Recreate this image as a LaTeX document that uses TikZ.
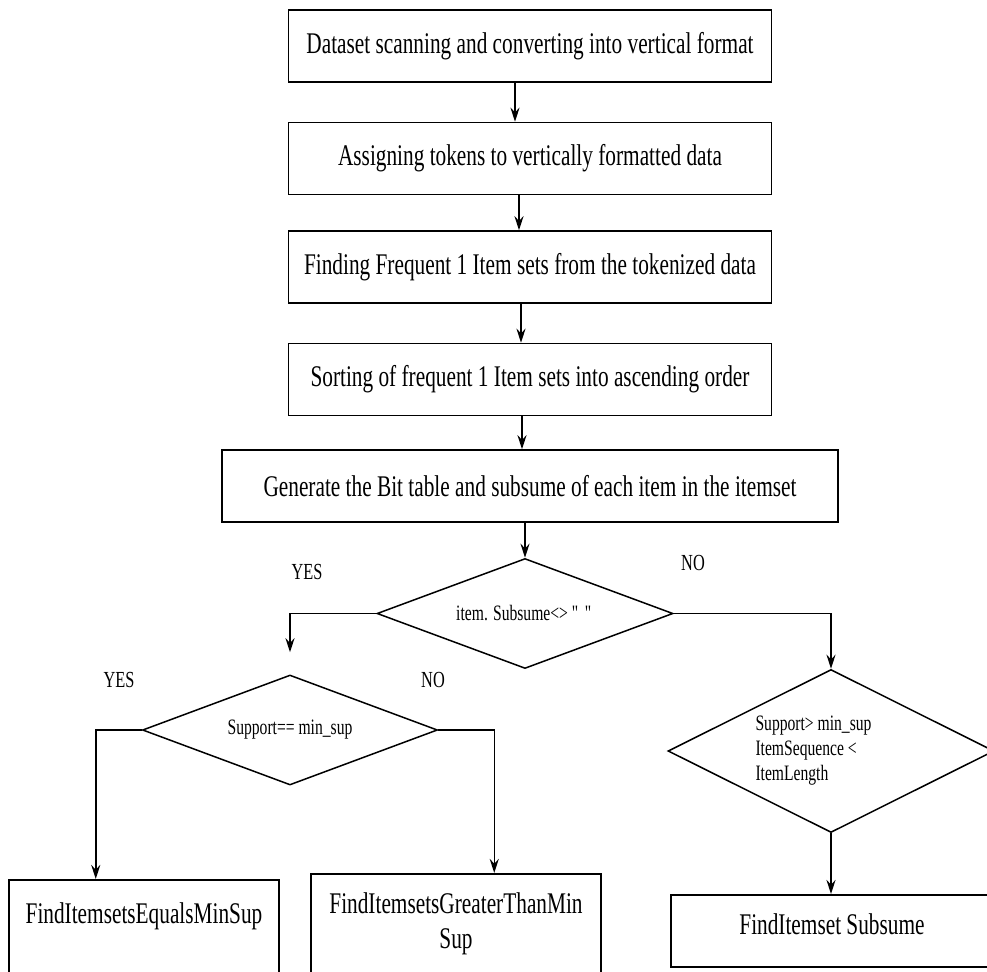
\documentclass[tikz,border=0pt]{standalone}
\usepackage{fontspec}
\setmainfont{Liberation Serif}[FakeStretch=0.71]
\usepackage{tikz}
\usetikzlibrary{arrows.meta}
\usetikzlibrary{shapes.geometric}
\usetikzlibrary{positioning}
\newcommand{\boxfont}{\fontsize{30}{35}\selectfont}
\newcommand{\decfont}{\fontsize{22}{25}\selectfont}
\newcommand{\ansfont}{\fontsize{23}{26}\selectfont}

\begin{document}
\begin{tikzpicture}[->,
                    >={Stealth[length=14pt,width=9pt]},
                    x=1pt, y=-1pt,
                    line width=1.5pt,
                    stepbox/.style={rectangle,draw,minimum width=483pt,minimum height=72pt,font=\boxfont},
                    decision/.style={diamond,draw,font=\decfont,inner sep=2pt},
                    endbox/.style={rectangle,draw,anchor=north,align=flush center,font=\boxfont,inner sep=4pt,text height=36pt},
                    answer/.style={font=\ansfont,inner sep=0pt}
                    ]
\path[use as bounding box,clip] (0,0) rectangle (987,971);

% steps
\node[stepbox] (scan) at (530,46) {Dataset scanning and converting into vertical format};
\node[stepbox] (token) [below=39pt of scan] {Assigning tokens to vertically formatted data};
\node[stepbox] (find) [below=35pt of token] {Finding Frequent 1 Item sets from the tokenized data};
\node[stepbox] (sort) [below=39pt of find] {Sorting of frequent 1 Item sets into ascending order};
\node[stepbox,minimum width=616pt] (gen) [below=33pt of sort] {Generate the Bit table and subsume of each item in the itemset};

% decisions
\node[decision,aspect=2.7,minimum width=296pt,minimum height=110pt] (dec1) [below=35pt of gen,xshift=-5pt] {item. Subsume<> \textquotedbl\ \textquotedbl};
\node[decision,aspect=2.7,minimum width=295pt,minimum height=110pt] (dec2) at (290,730) {Support== min\_sup};
\node[decision,aspect=2,minimum width=326pt,minimum height=163pt,text width=151pt,align=flush left] (dec3) at (831,751) {Support> min\_sup\\ItemSequence <\\ItemLength};

\node[answer] (yes1) at (307,572) {YES};
\node[answer] (no1) at (693,563) {NO};
\node[answer] (yes2) at (119,680) {YES};
\node[answer] (no2) at (433,680) {NO};

% results
\node[endbox,text width=262pt,text height=40pt,text depth=86pt] (eqbox) at (144,879) {FindItemsetsEqualsMinSup};
\node[endbox,text width=282pt,text depth=90pt] (gtbox) at (456,873) {FindItemsetsGreaterThanMin\\Sup};
\node[endbox,text width=314pt,text depth=28pt] (subbox) at (832,894) {FindItemset Subsume};

\draw ([xshift=-15pt]scan.south) -- ([xshift=-15pt]token.north);
\draw ([xshift=-11pt]token.south) -- ([xshift=-11pt]find.north);
\draw ([xshift=-9pt]find.south) -- ([xshift=-9pt]sort.north);
\draw ([xshift=-8pt]sort.south) -- ([xshift=-8pt]gen.north);
\draw (gen.south -| dec1.north) -- (dec1.north);

\coordinate (yesend) at ([yshift=22pt]dec2.north);
\draw (dec1.west) -| (yesend);
\draw (dec1.east) -| (dec3.north);
\draw (dec2.west) -- ([xshift=-46pt]dec2.west) -- ([xshift=-46pt]dec2.west |- eqbox.north);
\draw (dec2.east) -- ([xshift=56pt]dec2.east) -- ([xshift=56pt]dec2.east |- gtbox.north);
\draw (dec3.south) -- (subbox.north -| dec3.south);
\end{tikzpicture}
\end{document}
